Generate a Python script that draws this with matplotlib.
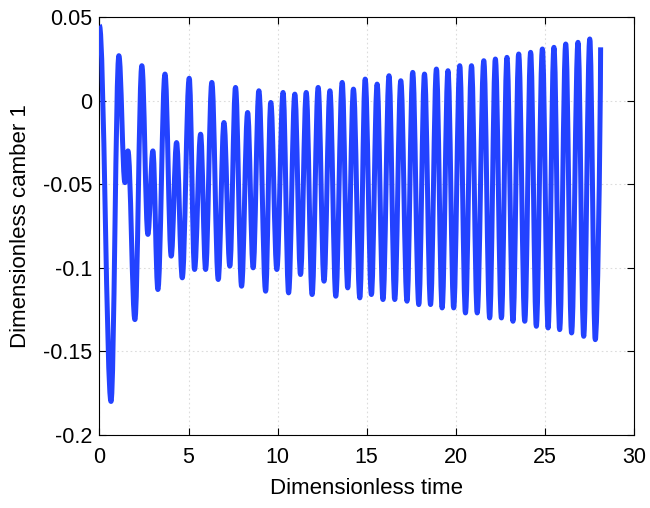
import matplotlib
matplotlib.use('Agg')
import matplotlib.pyplot as plt
from matplotlib.path import Path
import matplotlib.patches as patches

plt.rcParams['font.family'] = ['Liberation Sans', 'DejaVu Sans']

# extrema of the curve (time, value); last point is the end of the run
t_ext = [0.0, 0.65, 1.09, 1.43, 1.60, 1.99, 2.38, 2.72, 3.00, 3.28, 3.68, 4.03, 4.33, 4.65,
         5.04, 5.34, 5.68, 5.96, 6.31, 6.67, 6.99, 7.32, 7.64, 7.98, 8.32, 8.63, 8.95, 9.33,
         9.62, 9.96, 10.31, 10.62, 10.97, 11.29, 11.61, 11.94, 12.28, 12.61, 12.94, 13.27,
         13.63, 13.94, 14.26, 14.62, 14.92, 15.27, 15.59, 15.92, 16.26, 16.58, 16.92, 17.27,
         17.59, 17.93, 18.25, 18.59, 18.92, 19.24, 19.57, 19.89, 20.23, 20.55, 20.89, 21.21,
         21.58, 21.91, 22.23, 22.57, 22.88, 23.22, 23.54, 23.88, 24.21, 24.53, 24.87, 25.19,
         25.52, 25.84, 26.18, 26.51, 26.87, 27.19, 27.53, 27.84, 28.14]
v_ext = [0.045, -0.180, 0.027, -0.049, -0.030, -0.131, 0.021, -0.080, -0.030, -0.113, 0.016,
         -0.093, -0.025, -0.106, 0.0135, -0.101, -0.020, -0.101, 0.011, -0.107, -0.013, -0.099,
         0.008, -0.111, -0.007, -0.100, 0.006, -0.114, -0.001, -0.101, 0.005, -0.115, 0.004,
         -0.104, 0.005, -0.116, 0.008, -0.108, 0.006, -0.117, 0.011, -0.112, 0.007, -0.118,
         0.013, -0.116, 0.010, -0.119, 0.015, -0.119, 0.012, -0.120, 0.017, -0.122, 0.016,
         -0.122, 0.019, -0.124, 0.018, -0.124, 0.021, -0.127, 0.021, -0.127, 0.024, -0.130,
         0.025, -0.130, 0.026, -0.132, 0.028, -0.132, 0.029, -0.135, 0.031, -0.136, 0.032,
         -0.137, 0.034, -0.139, 0.035, -0.141, 0.037, -0.143, 0.032]

x_ticks = [0, 5, 10, 15, 20, 25, 30]
y_ticks = [-0.2, -0.15, -0.1, -0.05, 0, 0.05]
y_tick_labels = ['-0.2', '-0.15', '-0.1', '-0.05', '0', '0.05']

fig = plt.figure(figsize=(6.5, 5.08), dpi=100)
ax = fig.add_axes([0.153, 0.144, 0.822, 0.822])

# smooth half-waves between extrema (cubic bezier, flat tangent at each extremum)
k = 0.364
verts = [(t_ext[0], v_ext[0])]
codes = [Path.MOVETO]
n = len(t_ext)
for i in range(n - 1):
    t0, v0 = t_ext[i], v_ext[i]
    t1, v1 = t_ext[i + 1], v_ext[i + 1]
    dt = t1 - t0
    c1 = (t0 + k * dt, v0)
    if i == n - 2:
        # run stops mid-rise: steep tangent at the end
        c2 = (t1 - 0.08 * dt, v1 - 0.35 * (v1 - v0))
    else:
        c2 = (t1 - k * dt, v1)
    verts += [c1, c2, (t1, v1)]
    codes += [Path.CURVE4] * 3

path = Path(verts, codes)
ax.add_patch(patches.PathPatch(path, facecolor='none', edgecolor='#2342FF',
                               linewidth=3.6, capstyle='butt', joinstyle='round', zorder=3))

ax.set_xlim(0, 30)
ax.set_ylim(-0.2, 0.05)
ax.set_xticks(x_ticks)
ax.set_yticks(y_ticks)
ax.set_yticklabels(y_tick_labels)
ax.grid(True, color='#dcdcdc', linestyle=(0, (1.5, 2.5)), linewidth=0.8)
ax.tick_params(direction='in', top=True, right=True, labelsize=15.5, length=5, width=0.8)
ax.tick_params(axis='x', pad=9)
ax.tick_params(axis='y', pad=5)
for s in ax.spines.values():
    s.set_linewidth(0.8)

ax.set_xlabel('Dimensionless time', fontsize=16, labelpad=7)
ax.set_ylabel('Dimensionless camber 1', fontsize=16, labelpad=9)

plt.savefig('out.png', dpi=100)
plt.close()
